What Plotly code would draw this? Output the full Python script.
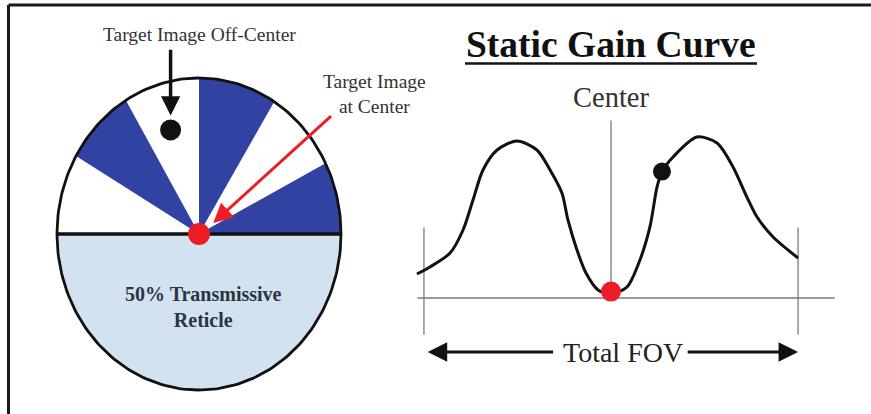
import numpy as np
import plotly.graph_objects as go

# ---------------- data ----------------
# Reticle: opaque (blue) spokes in the upper half, angles in degrees
WEDGE_START = [0, 58, 121]
WEDGE_END = [27, 90, 150]
OFF_CENTER_TARGET_X = [-0.20]
OFF_CENTER_TARGET_Y = [0.667]
CENTER_TARGET_X = [0.0]
CENTER_TARGET_Y = [0.0]

# Static gain curve (FOV position vs. gain)
FOV = [-1.032, -0.963, -0.856, -0.787, -0.734, -0.681, -0.606, -0.500, -0.394,
       -0.324, -0.261, -0.229, -0.181, -0.133, -0.069, 0.0, 0.085, 0.154,
       0.207, 0.245, 0.271, 0.330, 0.457, 0.564, 0.649, 0.723, 0.777, 0.862, 0.995]
GAIN = [0.150, 0.194, 0.281, 0.425, 0.613, 0.800, 0.925, 0.981, 0.925,
        0.800, 0.656, 0.488, 0.300, 0.156, 0.050, 0.025, 0.069, 0.238,
        0.444, 0.694, 0.788, 0.881, 1.006, 0.969, 0.819, 0.631, 0.506, 0.381, 0.250]
GAIN_OFF_CENTER_X = [0.271]
GAIN_OFF_CENTER_Y = [0.79]
GAIN_CENTER_X = [0.0]
GAIN_CENTER_Y = [0.04]
FOV_EDGES = [-1.0, 1.0]

# ---------------- layout constants ----------------
W, H = 871, 414
BLUE = "#3242A2"
LIGHT = "#D3E2F0"
RED = "#EE1C25"
SERIF = "Liberation Serif, Times New Roman, serif"

# reticle axis placement (pixels)
CX, CY, RX, RY = 199, 234, 142, 156
XR = [-1.4, 1.4]
YR = [-1.1, 1.4]
x1_dom = [(CX + XR[0] * RX) / W, (CX + XR[1] * RX) / W]
y1_dom = [(H - (CY - YR[0] * RY)) / H, (H - (CY - YR[1] * RY)) / H]

# gain axis placement (pixels)
FX0, FS, GY0, GS = 611, 188, 298, 160
X2R = [-1.1, 1.25]
Y2R = [-0.45, 1.8]
x2_dom = [(FX0 + X2R[0] * FS) / W, (FX0 + X2R[1] * FS) / W]
y2_dom = [(H - (GY0 - Y2R[0] * GS)) / H, (H - (GY0 - Y2R[1] * GS)) / H]

fig = go.Figure()

# ---- reticle ----
t = np.linspace(np.pi, 2 * np.pi, 120)
fig.add_trace(go.Scatter(x=np.cos(t), y=np.sin(t), fill="toself", fillcolor=LIGHT,
                         mode="lines", line=dict(width=0), xaxis="x", yaxis="y",
                         hoverinfo="skip"))
for a0, a1 in zip(WEDGE_START, WEDGE_END):
    a = np.radians(np.linspace(a0, a1, 40))
    xs = np.concatenate([[0], np.cos(a), [0]])
    ys = np.concatenate([[0], np.sin(a), [0]])
    fig.add_trace(go.Scatter(x=xs, y=ys, fill="toself", fillcolor=BLUE, mode="lines",
                             line=dict(width=0, color=BLUE), xaxis="x", yaxis="y",
                             hoverinfo="skip"))
t = np.linspace(0, 2 * np.pi, 240)
fig.add_trace(go.Scatter(x=np.cos(t), y=np.sin(t), mode="lines",
                         line=dict(color="#111111", width=2.8), xaxis="x", yaxis="y",
                         hoverinfo="skip"))
fig.add_trace(go.Scatter(x=[-1, 1], y=[0, 0], mode="lines",
                         line=dict(color="#111111", width=3.5), xaxis="x", yaxis="y",
                         hoverinfo="skip"))
fig.add_trace(go.Scatter(x=OFF_CENTER_TARGET_X, y=OFF_CENTER_TARGET_Y, mode="markers",
                         marker=dict(color="#111111", size=21), xaxis="x", yaxis="y",
                         cliponaxis=False))
fig.add_trace(go.Scatter(x=CENTER_TARGET_X, y=CENTER_TARGET_Y, mode="markers",
                         marker=dict(color=RED, size=22), xaxis="x", yaxis="y",
                         cliponaxis=False))

# ---- gain curve ----
grey = dict(color="#7a7a7a", width=1.3)
fig.add_trace(go.Scatter(x=[X2R[0] + 0.07, X2R[1] - 0.06], y=[0, 0], mode="lines",
                         line=grey, xaxis="x2", yaxis="y2", hoverinfo="skip"))
for fe in FOV_EDGES:
    fig.add_trace(go.Scatter(x=[fe * 0.995, fe * 0.995], y=[-0.23, 0.44], mode="lines",
                             line=grey, xaxis="x2", yaxis="y2", hoverinfo="skip"))
fig.add_trace(go.Scatter(x=[0, 0], y=[0, 1.11], mode="lines", line=grey,
                         xaxis="x2", yaxis="y2", hoverinfo="skip"))
fig.add_trace(go.Scatter(x=FOV, y=GAIN, mode="lines", line=dict(color="#111111", width=3,
                         shape="spline", smoothing=0.8), xaxis="x2", yaxis="y2",
                         hoverinfo="skip"))
fig.add_trace(go.Scatter(x=GAIN_OFF_CENTER_X, y=GAIN_OFF_CENTER_Y, mode="markers",
                         marker=dict(color="#111111", size=18), xaxis="x2", yaxis="y2"))
fig.add_trace(go.Scatter(x=GAIN_CENTER_X, y=GAIN_CENTER_Y, mode="markers",
                         marker=dict(color=RED, size=20), xaxis="x2", yaxis="y2",
                         cliponaxis=False))

ann = []
# reticle labels
ann.append(dict(x=0.007, y=1.276, xref="x", yref="y", text="Target Image Off-Center",
                showarrow=False, font=dict(family=SERIF, size=19.5, color="#333333")))
ann.append(dict(x=1.239, y=0.897, xref="x", yref="y", text="Target Image<br>at Center",
                showarrow=False, font=dict(family=SERIF, size=19.5, color="#333333")))
ann.append(dict(x=0.03, y=-0.47, xref="x", yref="y", text="<b>50% Transmissive<br>Reticle</b>",
                showarrow=False, font=dict(family=SERIF, size=20, color="#2B3442")))
# black arrow to off-center target
ann.append(dict(x=OFF_CENTER_TARGET_X[0], y=0.76, ax=OFF_CENTER_TARGET_X[0], ay=1.19,
                xref="x", yref="y", axref="x", ayref="y", text="", showarrow=True,
                arrowhead=2, arrowsize=1.1, arrowwidth=3.5, arrowcolor="#111111"))
# red arrow to center target
ann.append(dict(x=0.10, y=0.07, ax=0.94, ay=0.765, xref="x", yref="y", axref="x", ayref="y",
                text="", showarrow=True, arrowhead=2, arrowsize=1.3, arrowwidth=3,
                arrowcolor=RED))
# gain labels
ann.append(dict(x=0, y=1.585, xref="x2", yref="y2", text="<b>Static Gain Curve</b>",
                showarrow=False, font=dict(family=SERIF, size=37.5, color="#111111")))
ann.append(dict(x=0, y=1.256, xref="x2", yref="y2", text="Center",
                showarrow=False, font=dict(family=SERIF, size=28.5, color="#333333")))
ann.append(dict(x=0.064, y=-0.3375, xref="x2", yref="y2", text="Total FOV",
                showarrow=False, font=dict(family=SERIF, size=28, color="#222222")))
ann.append(dict(x=-0.975, y=-0.3375, ax=-0.30, ay=-0.3375, xref="x2", yref="y2",
                axref="x2", ayref="y2", text="", showarrow=True, arrowhead=2,
                arrowsize=1.3, arrowwidth=3, arrowcolor="#111111"))
ann.append(dict(x=0.995, y=-0.3375, ax=0.40, ay=-0.3375, xref="x2", yref="y2",
                axref="x2", ayref="y2", text="", showarrow=True, arrowhead=2,
                arrowsize=1.3, arrowwidth=3, arrowcolor="#111111"))

shapes = [
    # frame lines (top and left)
    dict(type="line", xref="paper", yref="paper", x0=8.5 / W, x1=1, y0=1 - 5 / H, y1=1 - 5 / H,
         line=dict(color="#1a1a1a", width=3)),
    dict(type="line", xref="paper", yref="paper", x0=8.5 / W, x1=8.5 / W, y0=0, y1=1 - 5 / H,
         line=dict(color="#1a1a1a", width=3)),
    # title underline
    dict(type="line", xref="paper", yref="paper", x0=465 / W, x1=757 / W,
         y0=1 - 63.5 / H, y1=1 - 63.5 / H, line=dict(color="#111111", width=2.5)),
]

ax_hidden = dict(visible=False, showgrid=False, zeroline=False, fixedrange=True)
fig.update_layout(
    width=W, height=H, margin=dict(l=0, r=0, t=0, b=0),
    paper_bgcolor="white", plot_bgcolor="rgba(0,0,0,0)", showlegend=False,
    xaxis=dict(ax_hidden, domain=x1_dom, range=XR),
    yaxis=dict(ax_hidden, domain=y1_dom, range=YR),
    xaxis2=dict(ax_hidden, domain=x2_dom, range=X2R, anchor="y2"),
    yaxis2=dict(ax_hidden, domain=y2_dom, range=Y2R, anchor="x2"),
    annotations=ann, shapes=shapes,
)

fig.write_html("out.html", config={"displayModeBar": False},
               post_script="document.body.style.margin='0';document.body.style.overflow='hidden';")
